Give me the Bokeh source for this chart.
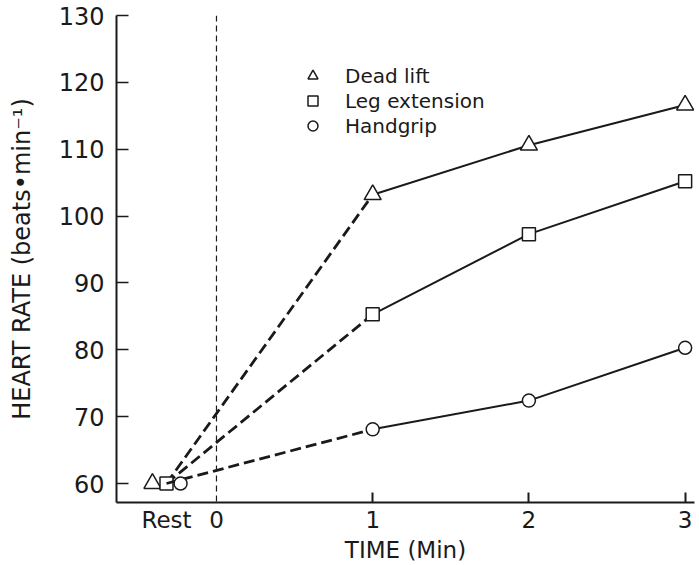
from bokeh.plotting import figure
from bokeh.models import Range1d, FixedTicker, Span, Legend, LegendItem
from bokeh.embed import file_html
from bokeh.resources import INLINE

# ---- data ----
rest_label = "Rest"
rest_x = -0.32
time_min = [1, 2, 3]
x_ticks = [0, 1, 2, 3]
y_ticks = [60, 70, 80, 90, 100, 110, 120, 130]
series_names = ["Dead lift", "Leg extension", "Handgrip"]
dead_lift_rest = 60
leg_ext_rest = 60
handgrip_rest = 60
dead_lift = [103.2, 110.6, 116.6]
leg_ext = [85.3, 97.3, 105.2]
handgrip = [68.1, 72.4, 80.3]

INK = "#1a1a1a"
FONT = "DejaVu Sans"

p = figure(width=699, height=565, output_backend="svg", toolbar_location=None,
           x_range=Range1d(-0.64, 3.06), y_range=Range1d(57.16, 130),
           min_border_left=116, min_border_right=5, min_border_top=15,
           min_border_bottom=63)
p.outline_line_color = None
p.grid.grid_line_color = None
p.background_fill_color = "white"

# x axis
xa = p.xaxis[0]
xa.ticker = FixedTicker(ticks=[rest_x] + x_ticks, minor_ticks=[t for t in x_ticks if t > 0])
xa.major_label_overrides = {rest_x: rest_label}
xa.major_tick_line_color = None
xa.major_tick_in = 0
xa.major_tick_out = 0
xa.minor_tick_in = 10
xa.minor_tick_out = 0
xa.minor_tick_line_color = INK
xa.minor_tick_line_width = 2
xa.axis_line_width = 2
xa.axis_line_color = INK
xa.major_label_standoff = 4
xa.major_label_text_font = FONT
xa.major_label_text_font_size = "23px"
xa.major_label_text_color = INK
xa.axis_label = "TIME (Min)"
xa.axis_label_text_font = FONT
xa.axis_label_text_font_style = "normal"
xa.axis_label_text_font_size = "23px"
xa.axis_label_text_color = INK
xa.axis_label_standoff = 1

# y axis
ya = p.yaxis[0]
ya.ticker = FixedTicker(ticks=y_ticks)
ya.major_tick_in = 12
ya.major_tick_out = 0
ya.major_tick_line_width = 1.5
ya.major_tick_line_color = INK
ya.minor_tick_line_color = None
ya.axis_line_width = 2
ya.axis_line_color = INK
ya.major_label_standoff = 12
ya.major_label_text_font = FONT
ya.major_label_text_font_size = "24px"
ya.major_label_text_color = INK
ya.axis_label = "HEART RATE (beats•min⁻¹)"
ya.axis_label_text_font = FONT
ya.axis_label_text_font_style = "normal"
ya.axis_label_text_font_size = "24px"
ya.axis_label_text_color = INK
ya.axis_label_standoff = 20

# dashed vertical line at time 0
p.add_layout(Span(location=0, dimension="height", line_color=INK,
                  line_dash="6 4", line_width=1.2))

series = [
    (series_names[0], dead_lift_rest, dead_lift, "triangle", 17, -0.09),
    (series_names[1], leg_ext_rest, leg_ext, "square", 13, 0.0),
    (series_names[2], handgrip_rest, handgrip, "circle", 13, 0.09),
]

legend_items = []
for name, rest_v, vals, marker, size, dodge in series:
    p.line([rest_x, time_min[0]], [rest_v, vals[0]], line_color=INK,
           line_width=2.8, line_dash="11 5")
    p.line(time_min, vals, line_color=INK, line_width=2)
    r = p.scatter(time_min, vals, marker=marker, size=size, fill_color="white",
                  line_color=INK, line_width=1.5)
    p.scatter([rest_x + dodge], [rest_v], marker=marker, size=size,
              fill_color="white", line_color=INK, line_width=1.5)
    legend_items.append(LegendItem(label=name, renderers=[r]))

legend = Legend(items=legend_items, location=(184, 364),
                glyph_width=25, glyph_height=25, label_height=25,
                spacing=0, padding=0, margin=0, label_standoff=20,
                label_text_font=FONT, label_text_font_size="20px",
                label_text_color=INK, background_fill_alpha=0,
                border_line_color=None)
p.add_layout(legend, "center")

open("out.html", "w").write(file_html(p, INLINE))
